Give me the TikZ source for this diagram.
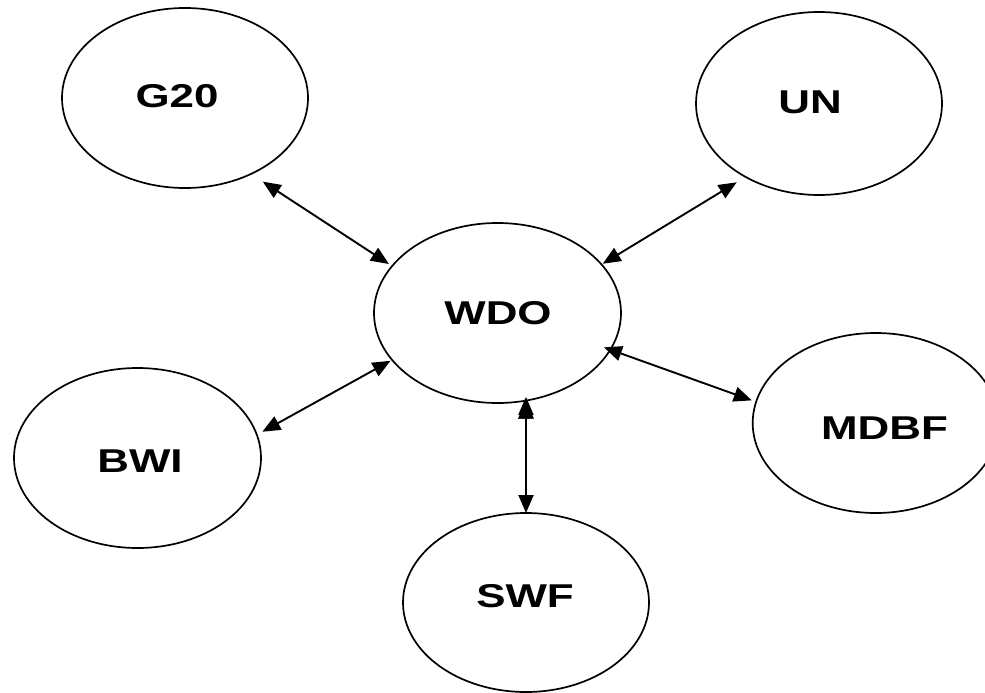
\documentclass[tikz,border=0pt]{standalone}
\usepackage{fontspec}
\usepackage{tikz}
\usetikzlibrary{shapes.geometric, arrows.meta}
\newfontfamily\orgfont{Liberation Sans}[FakeStretch=1.33]
\tikzset {
    x=1pt, y=-1pt,
    org/.style={ellipse, draw, line width=1.7pt, inner sep=0pt, outer sep=0pt,
        minimum width=246pt, minimum height=180pt},
    orgname/.style={font=\orgfont\bfseries\fontsize{33}{39}\selectfont, inner sep=0pt},
    link/.style={{Triangle[length=18pt, width=15pt]}-{Triangle[length=18pt, width=15pt]},
        line width=1.9pt}
}

\begin{document}
\begin{tikzpicture}
                            \useasboundingbox (0,0) rectangle (985,693);

                            \node[org] (g20) at (185,98) {};
                            \node[org, minimum height=183pt] (un) at (819,103.5) {};
                            \node[org, minimum width=247pt] (wdo) at (497.5,313) {};
                            \node[org, minimum width=247pt] (bwi) at (137.5,458) {};
                            \node[org] (mdbf) at (875.7,423) {};
                            \node[org, minimum height=179pt] (swf) at (526,602.5) {};

                            \node[orgname] (g20t) at (177,96.5) {G20};
                            \node[orgname] (unt) at (810,102) {UN};
                            \node[orgname] (wdot) at (498,313) {WDO};
                            \node[orgname] (bwit) at (140,461) {BWI};
                            \node[orgname] (mdbft) at (884.5,428.5) {MDBF};
                            \node[orgname] (swft) at (525,596) {SWF};

                            \draw[link]
                             (g20.-49.5) edge[shorten <=14.1pt, shorten >=3.8pt] (wdo.156)
                             (un.-135) edge[shorten <=10.4pt, shorten >=1.4pt] (wdo.25.7)
                             (bwi.11.9) edge[shorten <=6.3pt, shorten >=1.8pt] (wdo.-156.9)
                             (wdo.-18.5) edge[shorten <=-6.8pt, shorten >=4.6pt] (mdbf.170.2)
                             (wdo.-72.2) edge[shorten <=-3.7pt] (swf.north);
                        \end{tikzpicture}
\end{document}
